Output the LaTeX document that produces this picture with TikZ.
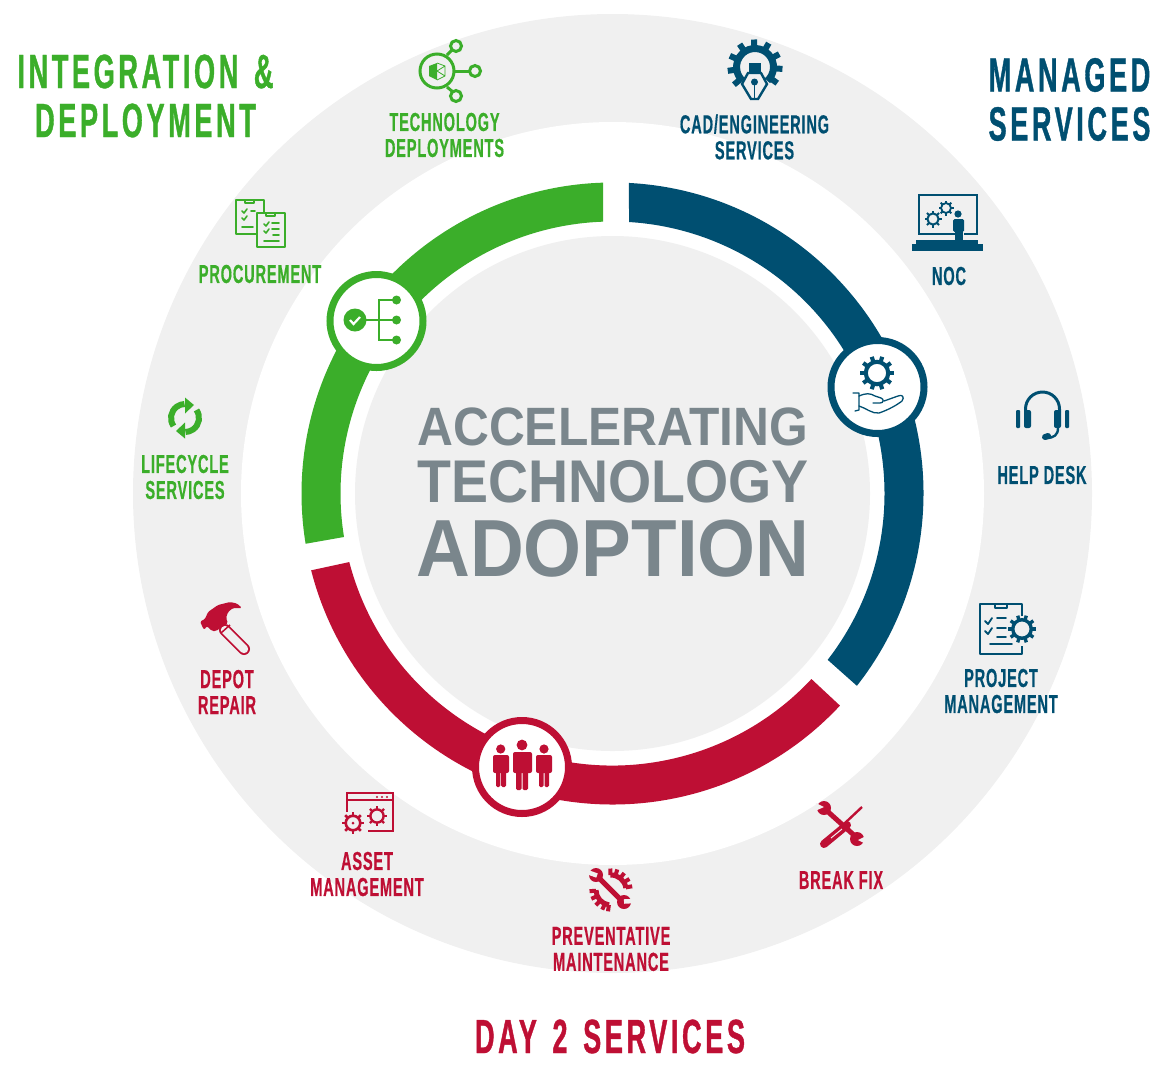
\documentclass[tikz,border=0pt]{standalone}
\usepackage{fontspec}
\usepackage{tikz}
\newfontfamily\labelfont[FakeStretch=0.56,LetterSpace=3.2,FakeBold=0.5]{Liberation Sans}
\newfontfamily\headfont[FakeStretch=0.565,LetterSpace=7.5,FakeBold=0.8,WordSpace=1.4]{Liberation Sans}
\newfontfamily\hubfont[FakeStretch=0.92]{Liberation Sans}
\definecolor{ringgrey}{HTML}{F0F0F0}
\definecolor{hubgrey}{HTML}{7A868C}
\definecolor{deploygreen}{HTML}{3BAE2A}
\definecolor{managedblue}{HTML}{004F71}
\definecolor{daytwored}{HTML}{BE0F34}
\tikzset{
    svclabel/.style={font=\labelfont\bfseries\fontsize{26}{26}\selectfont, align=center, inner sep=0pt},
    headlabel/.style={font=\headfont\bfseries\fontsize{48}{49}\selectfont, align=center, inner sep=0pt},
    hublabel/.style={text=hubgrey, inner sep=0pt},
    badge/.style={circle, draw=#1, fill=white, line width=7pt, minimum size=93pt, inner sep=0pt},
    icon/.style={line width=1.6pt, line cap=round, line join=round}
}
% x, y, radius, colour, teeth step
\newcommand{\cog}[5]{
    \begin{scope}[shift={(#1,#2)}]
        \draw[#4, line width={0.24*#3}] (0,0) circle[radius={0.66*#3}];
        \foreach \a in {0,#5,...,359}
            \draw[#4, line width={0.24*#3}] (\a:{0.7*#3}) -- (\a:{#3});
    \end{scope}
}
% outer start, outer end, inner start, inner end, colour
\newcommand{\ringseg}[5]{
    \fill[#5] (#1:311) arc[start angle=#1, end angle=#2, radius=311]
        -- (#3:272) arc[start angle=#3, end angle=#4, radius=272] -- cycle;
}
\begin{document}
\begin{tikzpicture}[x=1pt, y=-1pt]
        \useasboundingbox (0,0) rectangle (1170,1072);
        \coordinate (hub) at (612.5,493.5);

        % we draw the grey rings
        \fill[ringgrey] (hub) circle[radius=479.5];
        \fill[white] (hub) circle[radius=371.5];
        \fill[ringgrey] (hub) circle[radius=257.5];

        % we draw the coloured segments
        \begin{scope}[shift={(hub)}, y=1pt]
            \ringseg{87}{-38.2}{-37.7}{86.5}{managedblue}
            \ringseg{317}{194.3}{194.6}{317}{daytwored}
            \ringseg{189.3}{91.75}{92}{189.2}{deploygreen}
        \end{scope}

        % we add the badges
        \node[badge=deploygreen] (deploybadge) at (376.5,321) {};
        \node[badge=managedblue] (managedbadge) at (877.5,387) {};
        \node[badge=daytwored] (daytwobadge) at (522,767) {};

        % we add the centre text
        \node[hublabel, font=\hubfont\bfseries\fontsize{54}{54}\selectfont] (hubtop) at (612.8,427) {ACCELERATING};
        \node[hublabel, font=\hubfont\bfseries\fontsize{60.3}{60}\selectfont] (hubmid) at (613,482) {TECHNOLOGY};
        \node[hublabel, font=\hubfont\bfseries\fontsize{81}{81}\selectfont] (hubbot) at (613,548.5) {ADOPTION};

        % we add the headings
        \node[headlabel, text=deploygreen] (deployhead) at (145.5,96) {INTEGRATION \&\\DEPLOYMENT};
        \node[headlabel, text=managedblue] (managedhead) at (1069.5,99.5) {MANAGED\\SERVICES};
        \node[headlabel, text=daytwored] (daytwohead) at (610,1036.5) {DAY 2 SERVICES};

        % we add the service labels
        \node[svclabel, text=deploygreen] (techlabel) at (444.5,135) {TECHNOLOGY\\DEPLOYMENTS};
        \node[svclabel, text=deploygreen] (proclabel) at (260,274) {PROCUREMENT};
        \node[svclabel, text=deploygreen] (lifelabel) at (185,477) {LIFECYCLE\\SERVICES};
        \node[svclabel, text=managedblue] (cadlabel) at (754.5,137) {CAD/ENGINEERING\\SERVICES};
        \node[svclabel, text=managedblue] (noclabel) at (949,276) {NOC};
        \node[svclabel, text=managedblue] (helplabel) at (1042,475) {HELP DESK};
        \node[svclabel, text=managedblue] (projlabel) at (1001,691) {PROJECT\\MANAGEMENT};
        \node[svclabel, text=daytwored] (breaklabel) at (841,880) {BREAK FIX};
        \node[svclabel, text=daytwored] (prevlabel) at (611,949) {PREVENTATIVE\\MAINTENANCE};
        \node[svclabel, text=daytwored] (assetlabel) at (367,874) {ASSET\\MANAGEMENT};
        \node[svclabel, text=daytwored] (depotlabel) at (227,692) {DEPOT\\REPAIR};

        % we draw the technology deployments icon
        \begin{scope}[deploygreen, line width=3pt]
            \draw (437,71) circle[radius=17];
            \draw (447,55) -- (453,49);
            \draw (454,71) -- (469,71);
            \draw (447,87) -- (453,92);
            \draw (456,46) circle[radius=5.5];
            \draw (475,71) circle[radius=5.5];
            \draw (456,96) circle[radius=5.5];
            \fill (429,66) -- (437,63) -- (437,80) -- (429,76) -- cycle;
            \draw[line width=0.8pt] (437,63) -- (445,66) -- (445,76) -- (437,80) (437,71) -- (445,66) (437,71) -- (445,76);
        \end{scope}

        % we draw the procurement icon
        \begin{scope}[deploygreen, icon]
            \draw (236,200) rectangle (264,234);
            \draw (245,200) rectangle (254,203);
            \draw[fill=ringgrey] (257,213) rectangle (285,247);
            \draw (266,213) rectangle (275,216);
            \draw (242,211) -- (244,213) -- (247,209) (242,218) -- (244,220) -- (247,216);
            \draw (251,211) -- (255,211) (242,227) -- (253,227);
            \draw (264,224) -- (266,226) -- (269,222) (264,231) -- (266,233) -- (269,229);
            \draw (272,223) -- (279,223) (272,229) -- (279,229) (273,235) -- (279,235) (264,241) -- (279,241);
        \end{scope}

        % we draw the lifecycle icon
        \begin{scope}[shift={(185,418)}, y=1pt, deploygreen]
            \draw[line width=6pt] (215:14) arc[start angle=215, end angle=92, radius=14];
            \fill (0,20.5) -- (9,13) -- (0,4.5) -- cycle;
            \draw[line width=6pt] (35:14) arc[start angle=35, end angle=-88, radius=14];
            \fill (0,-20.5) -- (-9,-13) -- (0,-4.5) -- cycle;
        \end{scope}

        % we draw the deployment badge icon
        \begin{scope}[deploygreen]
            \fill (355,320) circle[radius=11.5];
            \draw[white, line width=2.2pt] (350,320) -- (353.5,324) -- (360,317);
            \draw[line width=1.6pt] (366,320) -- (396,320) (396,300) -- (379,300) -- (379,340) -- (396,340);
            \fill (396.5,300) circle[radius=4.5];
            \fill (396.5,320) circle[radius=4.5];
            \fill (396.5,340) circle[radius=4.5];
        \end{scope}

        % we draw the cad icon
        \begin{scope}[shift={(755,67)}, y=1pt, managedblue]
            \draw[line width=7pt] (-48:18.5) arc[start angle=-48, end angle=228, radius=18.5];
            \foreach \a in {-36,-4,...,220}
                \draw[line width=6pt] (\a:20) -- (\a:27.5);
        \end{scope}
        \begin{scope}[managedblue]
            \fill (749,63) rectangle (761,72);
            \draw[line width=2.4pt] (748,73) -- (742,84) -- (751,99) -- (758,99) -- (767,84) -- (761,73) -- cycle;
            \fill (754.5,82) circle[radius=3.5];
            \draw[line width=1.6pt] (754.5,82) -- (754.5,99);
        \end{scope}

        % we draw the noc icon
        \begin{scope}[managedblue]
            \draw[line width=2.2pt] (955,234) -- (919,234) -- (919,195) -- (977,195) -- (977,234) -- (964,234);
            \fill (916,240) rectangle (978,244);
            \fill (912,244) rectangle (983,251);
            \fill (958,214) circle[radius=3.6];
            \fill[rounded corners=1.5pt] (953,219) rectangle (964,232);
            \fill (955,230) rectangle (963,241);
        \end{scope}
        \cog{933}{219}{8.5}{managedblue}{45}
        \cog{946}{208}{7.5}{managedblue}{45}

        % we draw the help desk icon
        \begin{scope}[shift={(1042.5,409)}, y=1pt, managedblue]
            \draw[line width=3pt] (-17,-3) -- (-17,0) arc[start angle=180, end angle=0, radius=17] -- (17,-3);
            \fill[rounded corners=2pt] (-18.5,-1) rectangle (-11.5,-19);
            \fill[rounded corners=2pt] (11.5,-1) rectangle (18.5,-19);
            \fill[rounded corners=1pt] (-26.5,-1) rectangle (-22.5,-19);
            \fill[rounded corners=1pt] (22.5,-1) rectangle (26.5,-19);
            \draw[line width=2.4pt] (15.5,-19) .. controls (15.5,-26) and (11.5,-29) .. (3.5,-29);
            \draw[line width=6pt, line cap=round] (2.5,-28) -- (5.5,-27);
        \end{scope}

        % we draw the project management icon
        \begin{scope}[managedblue, icon]
            \draw[line width=2pt, line cap=butt] (1022,616) -- (1022,604) -- (980,604) -- (980,654) -- (1022,654) -- (1022,646);
            \draw (995,604) rectangle (1007,608);
            \draw[line width=1.8pt] (985,621) -- (988,624) -- (992,618) (985,631) -- (988,634) -- (992,628);
            \draw[line width=1.8pt] (997,618) -- (1006,618) (997,628) -- (1006,628) (997,637) -- (1006,637) (990,644) -- (1012,644);
        \end{scope}
        \cog{1022}{629}{14}{managedblue}{36}

        % we draw the managed badge icon
        \cog{877}{373}{17}{managedblue}{36}
        \begin{scope}[managedblue, line width=1.3pt, line cap=round, line join=round]
            \draw (853,393) -- (859,393) -- (859,410) -- (855,411);
            \draw (859,396) .. controls (866,393) and (870,393) .. (875,396) -- (881,398) .. controls (884,399) and (884,403) .. (880,403) -- (873,403);
            \draw (859,406) .. controls (866,408) and (872,414) .. (879,413) .. controls (888,410) and (897,405) .. (902,401) .. controls (905,397) and (902,394) .. (898,396) -- (884,401);
        \end{scope}

        % we draw the break fix icon
        \begin{scope}[daytwored]
            \draw[line width=5pt] (826,810) -- (856,837);
            \fill (824,808) circle[radius=7];
            \fill (857,839) circle[radius=7];
            \fill[ringgrey] (824,807) -- (816,803) -- (815,811) -- cycle;
            \fill[ringgrey] (858,840) -- (866,836) -- (866,844) -- cycle;
            \draw[line width=2.4pt] (862,807) -- (845,823);
            \draw[line width=8pt, line cap=round] (847,825) -- (824,844);
            \draw[ringgrey, line width=1pt] (842,829) -- (831,838);
        \end{scope}

        % we draw the preventative maintenance icon
        \begin{scope}[daytwored]
            \draw[line width=5pt] (599,878) -- (622,901);
            \fill (596,875) circle[radius=7];
            \fill (624,902) circle[radius=7];
            \draw[ringgrey, line width=4.5pt] (597,875.5) -- (587,872);
            \draw[ringgrey, line width=4.5pt] (624,901.5) -- (634,901);
        \end{scope}
        \begin{scope}[shift={(611,890)}, y=1pt, daytwored]
            \draw[line width=5pt] (8:15) arc[start angle=8, end angle=92, radius=15];
            \draw[line width=5pt] (181:15) arc[start angle=181, end angle=262, radius=15];
            \foreach \a in {10,31,52,73,92,183,204,225,246,262}
                \draw[line width=4pt] (\a:15) -- (\a:21.5);
        \end{scope}

        % we draw the asset management icon
        \begin{scope}[daytwored, line width=1.6pt]
            \draw (347,812) -- (347,793) -- (393,793) -- (393,831) -- (368,831);
            \draw (347,800) -- (393,800);
            \fill (377,797) circle[radius=1.2];
            \fill (382,797) circle[radius=1.2];
            \fill (387,797) circle[radius=1.2];
        \end{scope}
        \cog{353}{823}{11}{daytwored}{45}
        \cog{377}{816}{10}{daytwored}{45}
        \fill[daytwored] (353,823) circle[radius=1.5];

        % we draw the depot repair icon
        \begin{scope}[daytwored]
            \draw[line width=12pt, line cap=round] (225,630) -- (244,649);
            \draw[ringgrey, line width=8.4pt, line cap=round] (225,630) -- (244,649);
            \fill[rounded corners=1.5pt] (200,621.5) -- (205,619) -- (208,612) -- (218,605) -- (230,602) -- (237,603.5) -- (242,608) -- (233,608) -- (228,612) -- (226,618) -- (228,623) -- (216,631) -- (212,631) -- (207,626) -- (204,630) -- cycle;
            \draw[line width=1.5pt] (221,633) -- (230,625);
        \end{scope}

        % we draw the people icon
        \begin{scope}[daytwored]
            \fill (500.7,749) circle[radius=4.6];
            \fill[rounded corners=2pt] (493,755) rectangle (509,773);
            \fill[rounded corners=1.5pt] (496,765) rectangle (500.3,787);
            \fill[rounded corners=1.5pt] (501.2,765) rectangle (506,787);
            \fill (522,745) circle[radius=5.4];
            \fill[rounded corners=2pt] (513,752) rectangle (532,773);
            \fill[rounded corners=1.5pt] (516,765) rectangle (521.5,790);
            \fill[rounded corners=1.5pt] (522.5,765) rectangle (528,790);
            \fill (544,749) circle[radius=4.6];
            \fill[rounded corners=2pt] (536,755) rectangle (552,773);
            \fill[rounded corners=1.5pt] (539,765) rectangle (543.5,787);
            \fill[rounded corners=1.5pt] (544.5,765) rectangle (549,787);
        \end{scope}
    \end{tikzpicture}
\end{document}
